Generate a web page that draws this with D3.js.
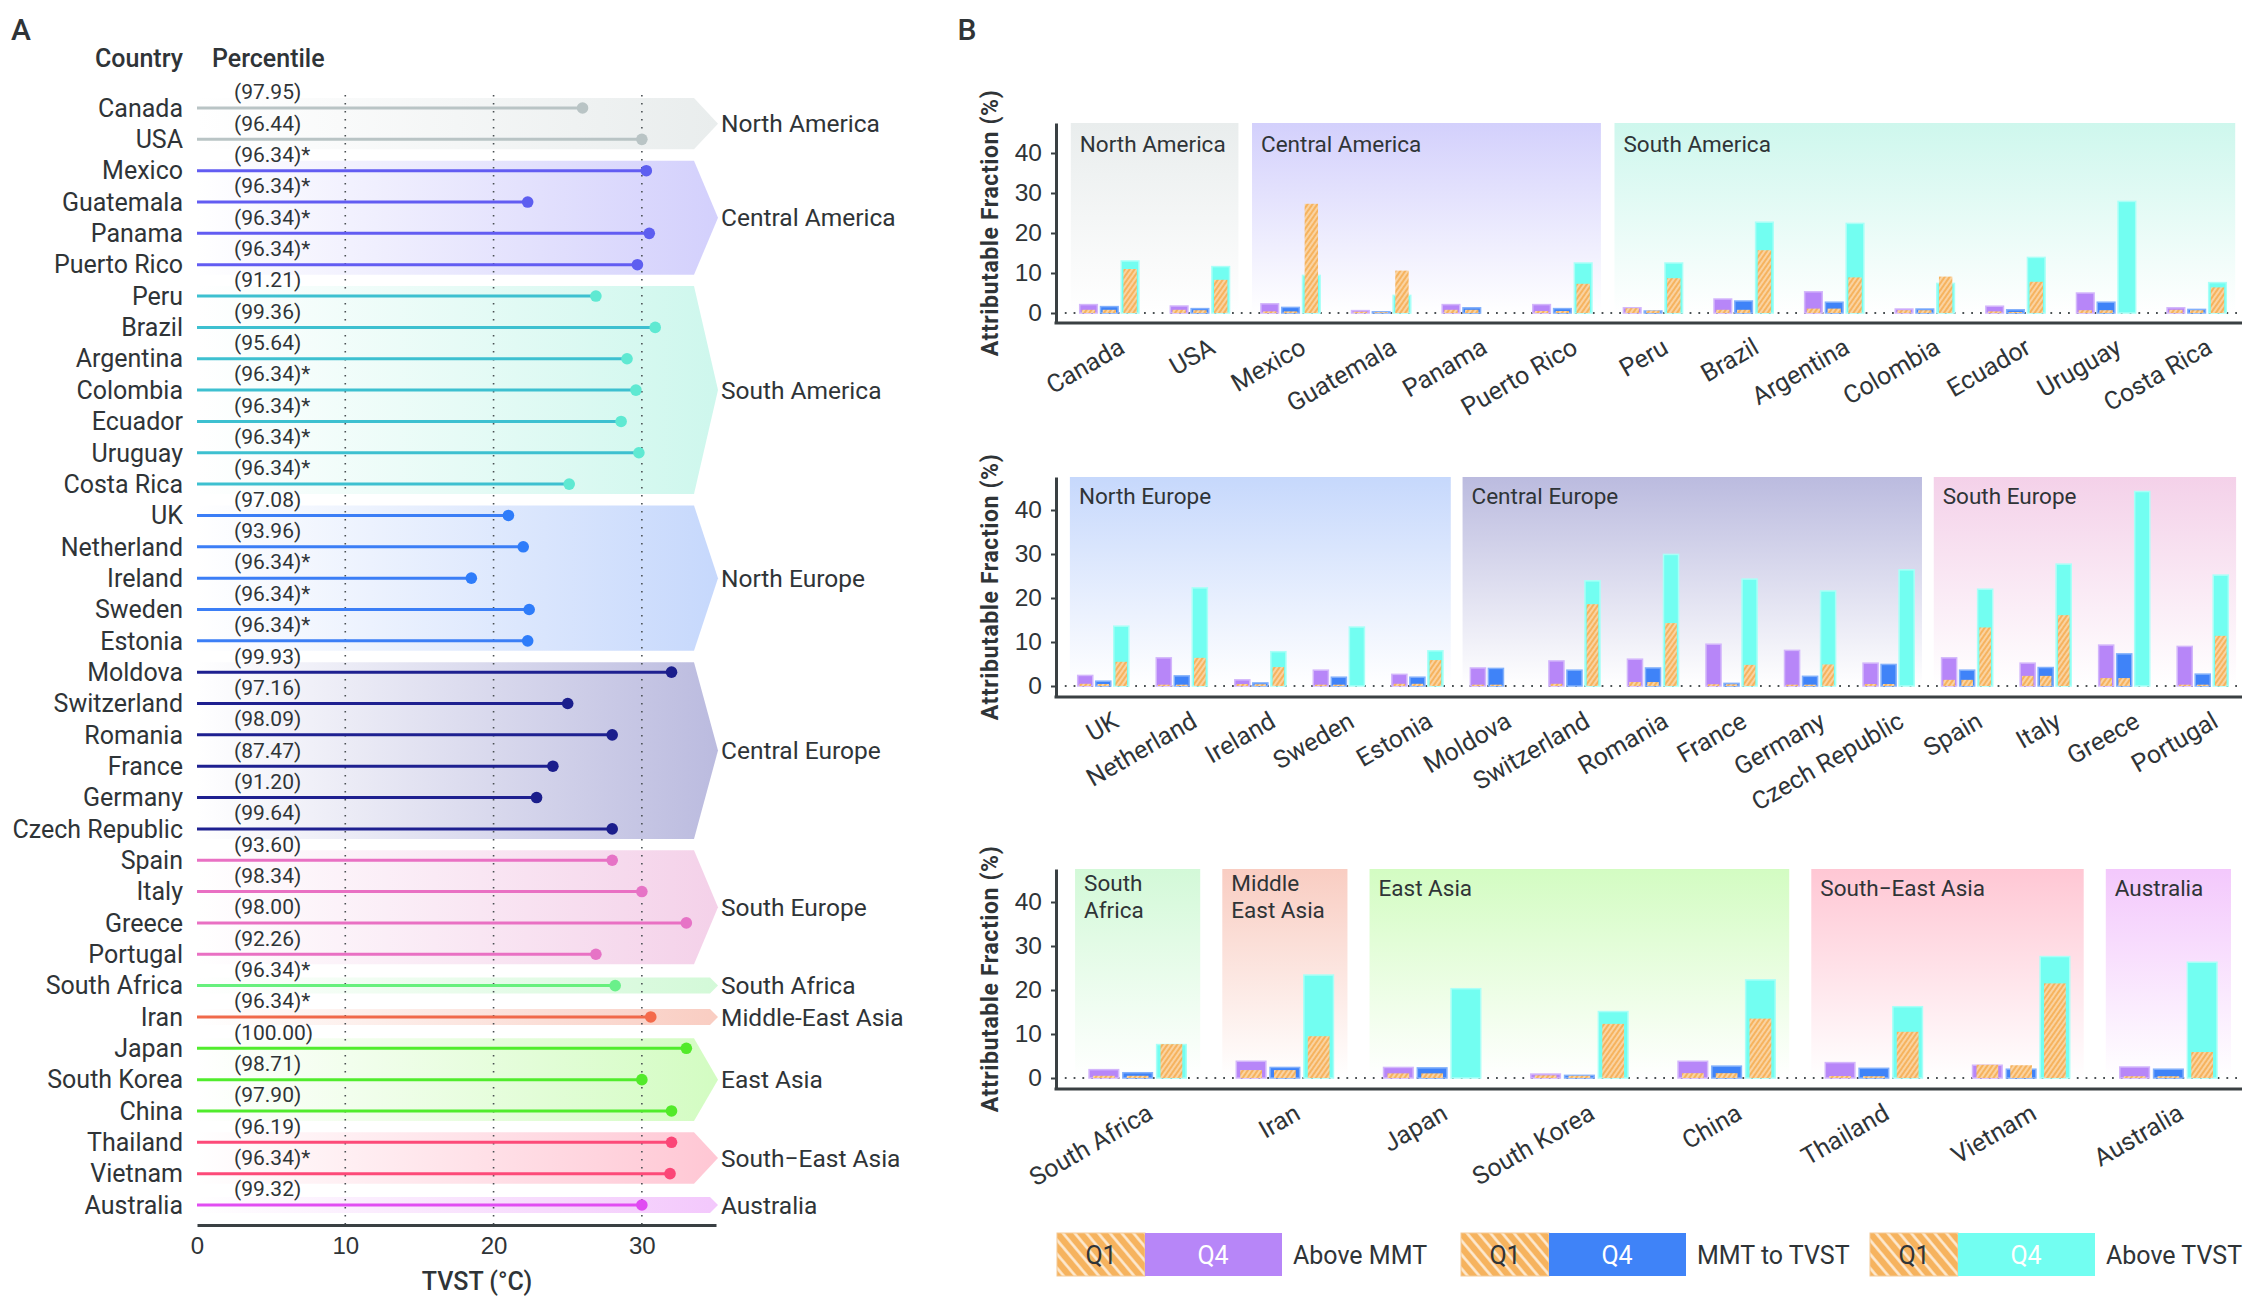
<!DOCTYPE html>
<html>
<head>
<meta charset="utf-8">
<script src="https://cdn.jsdelivr.net/npm/d3@7"></script>
<style>
  body { margin: 0; background: #fff; }
  svg { font-family: Roboto, "Noto Sans", sans-serif; }
  text { fill: #2f3437; }
</style>
</head>
<body>
<svg id="fig" width="2254" height="1312"></svg>
<script>
// countries, in the order they are drawn (top to bottom in A, left to right in B)
var countries = ["Canada", "USA", "Mexico", "Guatemala", "Panama", "Puerto Rico",
  "Peru", "Brazil", "Argentina", "Colombia", "Ecuador", "Uruguay", "Costa Rica",
  "UK", "Netherland", "Ireland", "Sweden", "Estonia",
  "Moldova", "Switzerland", "Romania", "France", "Germany", "Czech Republic",
  "Spain", "Italy", "Greece", "Portugal",
  "South Africa", "Iran", "Japan", "South Korea", "China", "Thailand", "Vietnam", "Australia"];

var regions = ["North America", "Central America", "South America", "North Europe",
  "Central Europe", "South Europe", "South Africa", "Middle-East Asia", "East Asia",
  "South\u2212East Asia", "Australia"];
var regionSizes = [2, 4, 7, 5, 6, 4, 1, 1, 3, 2, 1];
var regionLabelsB = [["North America"], ["Central America"], ["South America"], ["North Europe"],
  ["Central Europe"], ["South Europe"], ["South", "Africa"], ["Middle", "East Asia"], ["East Asia"],
  ["South\u2212East Asia"], ["Australia"]];

// panel A
var tvst = [26.0, 30.0, 30.3, 22.3, 30.5, 29.7, 26.9, 30.9, 29.0, 29.6, 28.6, 29.8, 25.1,
  21.0, 22.0, 18.5, 22.4, 22.3, 32.0, 25.0, 28.0, 24.0, 22.9, 28.0,
  28.0, 30.0, 33.0, 26.9, 28.2, 30.6, 33.0, 30.0, 32.0, 32.0, 31.9, 30.0];
var percentile = [97.95, 96.44, 96.34, 96.34, 96.34, 96.34, 91.21, 99.36, 95.64, 96.34, 96.34, 96.34, 96.34,
  97.08, 93.96, 96.34, 96.34, 96.34, 99.93, 97.16, 98.09, 87.47, 91.20, 99.64,
  93.60, 98.34, 98.00, 92.26, 96.34, 96.34, 100.00, 98.71, 97.90, 96.19, 96.34, 99.32];
var imputed = [0, 0, 1, 1, 1, 1, 0, 0, 0, 1, 1, 1, 1, 0, 0, 1, 1, 1, 0, 0, 0, 0, 0, 0,
  0, 0, 0, 0, 1, 1, 0, 0, 0, 0, 1, 0];
var tvstTicks = [0, 10, 20, 30];

// panel B, attributable fraction (%)
var aboveMmtQ4 = [2.1, 1.75, 2.3, 0.6, 2.1, 2.1, 1.3, 3.5, 5.3, 1.0, 1.7, 5.0, 1.3,
  2.4, 6.4, 1.4, 3.6, 2.65, 4.1, 5.7, 6.1, 9.5, 8.1, 5.2, 6.4, 5.2, 9.3, 9.0,
  1.9, 3.8, 2.4, 0.9, 3.8, 3.5, 2.9, 2.5];
var aboveMmtQ1 = [0.8, 0.8, 0.4, 0.3, 0.8, 0.5, 1.2, 0.8, 1.1, 0.7, 0.4, 0.7, 0.8,
  0.5, 0.3, 0.45, 0.3, 0.5, 0.3, 0.5, 0.9, 0.4, 0.3, 0.45, 1.4, 2.3, 1.8, 0.3,
  0.5, 1.8, 1.05, 0.6, 1.1, 0.45, 3.0, 0.4];
var mmtTvstQ4 = [1.6, 1.1, 1.4, 0.3, 1.3, 1.1, 0.5, 3.0, 2.7, 1.0, 0.8, 2.7, 0.9,
  1.1, 2.3, 0.7, 2.0, 2.0, 4.0, 3.6, 4.1, 0.6, 2.2, 4.9, 3.6, 4.2, 7.3, 2.7,
  1.2, 2.4, 2.3, 0.6, 2.7, 2.2, 2.0, 2.0];
var mmtTvstQ1 = [0.8, 0.7, 0.4, 0.2, 0.8, 0.5, 0.6, 0.8, 1.1, 0.7, 0.25, 0.7, 0.7,
  0.45, 0.3, 0.4, 0.3, 0.5, 0.3, 0, 0.9, 0.4, 0.3, 0.45, 1.4, 2.3, 1.8, 0.3,
  0.5, 1.8, 1.05, 0.5, 1.1, 0.4, 2.9, 0.4];
var aboveTvstQ4 = [13.0, 11.6, 9.4, 4.4, 0, 12.5, 12.5, 22.7, 22.4, 7.4, 13.9, 27.9, 7.6,
  13.6, 22.3, 7.8, 13.4, 8.0, 0, 23.9, 29.9, 24.3, 21.6, 26.4, 22.0, 27.7, 44.2, 25.2,
  7.6, 23.4, 20.3, 15.1, 22.3, 16.2, 27.6, 26.3];
var aboveTvstQ1 = [11.0, 8.3, 27.3, 10.6, 0, 7.3, 8.7, 15.7, 8.9, 9.1, 7.8, 0, 6.4,
  5.5, 6.4, 4.3, 0, 5.9, 0, 18.6, 14.3, 4.8, 4.9, 0, 13.3, 16.1, 0, 11.4,
  7.7, 9.5, 0, 12.3, 13.5, 10.5, 21.5, 5.9];
var afTicks = [0, 10, 20, 30, 40];
var seriesNames = ["Above MMT", "MMT to TVST", "Above TVST"];
var chartRegions = [[0, 1, 2], [3, 4, 5], [6, 7, 8, 9, 10]];

// colours
var lineColors = ["#b9c4c5", "#625cf2", "#3dc0d0", "#3b7ef6", "#1e2090", "#e970c3",
  "#67f07d", "#f0694a", "#50ec2c", "#fd4a78", "#e14df2"];
var dotColors = ["#b9c4c5", "#5d5ef0", "#5fe9d2", "#2e7cfa", "#1b1e8c", "#e673c6",
  "#6af08a", "#f46a4a", "#52ea2a", "#fb4677", "#e04bf2"];
var bandColors = ["#e9eded", "#d3d0fc", "#cef7ed", "#c6d8fc", "#bbbbdf", "#f4d1e9",
  "#d3f9d8", "#f9cdc2", "#d3fcc2", "#ffc7d4", "#f3c8fc"];
var seriesColors = ["#b786f8", "#3f83f8", "#72fef1"];
var seriesStroke = ["#d3b6fb", "#82b0fb", "#a9fff7"];
var q1Color = "#f6b35e";

var svg = d3.select("#fig");
var defs = svg.append("defs");

function hatch(id, size, angle) {
  var p = defs.append("pattern")
    .attr("id", id)
    .attr("patternUnits", "userSpaceOnUse")
    .attr("width", size).attr("height", size)
    .attr("patternTransform", "rotate(" + angle + ")");
  p.append("rect").attr("width", size).attr("height", size).attr("fill", q1Color);
  p.append("line").attr("x1", size / 2).attr("x2", size / 2).attr("y1", 0).attr("y2", size)
    .attr("stroke", "#fff").attr("stroke-width", size * 0.28).attr("stroke-opacity", 0.75);
}
hatch("hatchBar", 4, 35);
hatch("hatchLegend", 9, -40);

// region index of each country
var regionOf = [], regionStart = [];
regionSizes.forEach(function(n, i) {
  regionStart.push(regionOf.length);
  for (var k = 0; k < n; k++) regionOf.push(i);
});

// ---------------- panel A ----------------
var xA = d3.scaleLinear().domain([0, 35]).range([197, 716]);
var yA = d3.scalePoint().domain(countries).range([108, 1205]);
var gA = svg.append("g");

gA.append("text").attr("x", 21).attr("y", 29).attr("dy", "0.35em")
  .attr("text-anchor", "middle").style("font-size", "30px").style("font-weight", 500).text("A");
gA.append("text").attr("x", 183).attr("y", 58).attr("dy", "0.35em").attr("text-anchor", "end")
  .style("font-size", "25px").style("font-weight", 500).text("Country");
gA.append("text").attr("x", 212).attr("y", 58).attr("dy", "0.35em")
  .style("font-size", "25px").style("font-weight", 500).text("Percentile");

// chevron bands
regions.forEach(function(r, i) {
  var first = countries[regionStart[i]];
  var last = countries[regionStart[i] + regionSizes[i] - 1];
  var pad = regionSizes[i] > 1 ? 10 : 8;
  var y0 = yA(first) - pad, y1 = yA(last) + pad;
  var tip = xA(35) + 2;
  var inset = Math.min((y1 - y0) / 2, 24);
  var grad = defs.append("linearGradient").attr("id", "ga" + i)
    .attr("x1", 0).attr("x2", 1).attr("y1", 0).attr("y2", 0);
  grad.append("stop").attr("offset", 0).attr("stop-color", "#ffffff");
  grad.append("stop").attr("offset", 1).attr("stop-color", bandColors[i]);
  gA.append("polygon")
    .attr("points", [[xA(0), y0], [tip - inset, y0], [tip, (y0 + y1) / 2], [tip - inset, y1], [xA(0), y1]].join(" "))
    .attr("fill", "url(#ga" + i + ")");
  gA.append("text").attr("x", tip + 3).attr("y", (y0 + y1) / 2).attr("dy", "0.35em")
    .style("font-size", "24.5px").text(r);
});

// dotted guides
gA.selectAll(".guide").data(tvstTicks.slice(1)).enter().append("line")
  .attr("x1", function(d) { return xA(d); }).attr("x2", function(d) { return xA(d); })
  .attr("y1", 95).attr("y2", 1225)
  .attr("stroke", "#4a5053").attr("stroke-width", 1.6).attr("stroke-dasharray", "1.6,6.4");

// lollipops
var rows = gA.selectAll(".row").data(countries).enter().append("g");
rows.append("line")
  .attr("x1", xA(0)).attr("x2", function(d, i) { return xA(tvst[i]); })
  .attr("y1", function(d) { return yA(d); }).attr("y2", function(d) { return yA(d); })
  .attr("stroke", function(d, i) { return lineColors[regionOf[i]]; }).attr("stroke-width", 3);
rows.append("circle")
  .attr("cx", function(d, i) { return xA(tvst[i]); }).attr("cy", function(d) { return yA(d); })
  .attr("r", 5.8).attr("fill", function(d, i) { return dotColors[regionOf[i]]; });
rows.append("text")
  .attr("x", 183).attr("y", function(d) { return yA(d); }).attr("dy", "0.35em")
  .attr("text-anchor", "end").style("font-size", "25px").text(function(d) { return d; });
rows.append("text")
  .attr("x", 234).attr("y", function(d) { return yA(d) - 16; }).attr("dy", "0.35em")
  .style("font-size", "21px")
  .text(function(d, i) { return "(" + percentile[i].toFixed(2) + ")" + (imputed[i] ? "*" : ""); });

var axA = gA.append("g").attr("transform", "translate(0,1225)")
  .call(d3.axisBottom(xA).tickValues(tvstTicks).tickSize(0).tickSizeOuter(0).tickPadding(12));
axA.select(".domain").attr("stroke", "#3a4043").attr("stroke-width", 3);
axA.selectAll("text").style("font-size", "24px").attr("fill", "#2f3437");
gA.append("text").attr("x", 477).attr("y", 1281).attr("dy", "0.35em").attr("text-anchor", "middle")
  .style("font-size", "25px").style("font-weight", 500).text("TVST (\u00b0C)");

// ---------------- panel B ----------------
var gB = svg.append("g");
gB.append("text").attr("x", 967).attr("y", 29).attr("dy", "0.35em")
  .attr("text-anchor", "middle").style("font-size", "30px").style("font-weight", 500).text("B");

var chartBoxes = [{top: 123, bottom: 323}, {top: 477, bottom: 697}, {top: 869, bottom: 1089}];
var axisX = 1056, plotRight = 2242;
var q4 = [aboveMmtQ4, mmtTvstQ4, aboveTvstQ4];
var q1 = [aboveMmtQ1, mmtTvstQ1, aboveTvstQ1];

chartRegions.forEach(function(regIdx, ci) {
  var box = chartBoxes[ci];
  var idx = [];
  regIdx.forEach(function(r) { for (var k = 0; k < regionSizes[r]; k++) idx.push(regionStart[r] + k); });
  var names = idx.map(function(i) { return countries[i]; });

  var x = d3.scaleBand().domain(names).range([1064, plotRight]).paddingInner(0.33).paddingOuter(0.165);
  var y = d3.scaleLinear().domain([-2.5, 47.5]).range([box.bottom, box.top]);
  var sub = d3.scaleBand().domain([0, 1, 2]).range([0, x.bandwidth()]).paddingInner(0.08);
  var g = gB.append("g");

  // region backgrounds
  regIdx.forEach(function(r) {
    var pad = x.step() * 0.09;
    var x0 = x(countries[regionStart[r]]) - pad;
    var x1 = x(countries[regionStart[r] + regionSizes[r] - 1]) + x.bandwidth() + pad;
    var grad = defs.append("linearGradient").attr("id", "gb" + r)
      .attr("x1", 0).attr("x2", 0).attr("y1", 0).attr("y2", 1);
    grad.append("stop").attr("offset", 0).attr("stop-color", bandColors[r]);
    grad.append("stop").attr("offset", 1).attr("stop-color", "#ffffff");
    g.append("rect").attr("x", x0).attr("width", x1 - x0)
      .attr("y", box.top).attr("height", y(0) - box.top)
      .attr("fill", "url(#gb" + r + ")");
    var lines = regionLabelsB[r];
    lines.forEach(function(t, li) {
      g.append("text").attr("x", x0 + 9)
        .attr("y", box.top + (lines.length > 1 ? 14 + li * 27 : (ci == 0 ? 21 : 19)))
        .attr("dy", "0.35em").style("font-size", "22.5px").text(t);
    });
  });

  // zero line
  g.append("line").attr("x1", axisX).attr("x2", plotRight).attr("y1", y(0)).attr("y2", y(0))
    .attr("stroke", "#4a5053").attr("stroke-width", 1.8).attr("stroke-dasharray", "1.8,7");

  // bars
  var grp = g.selectAll(".grp").data(idx).enter().append("g")
    .attr("transform", function(i) { return "translate(" + x(countries[i]) + ",0)"; });
  [0, 1, 2].forEach(function(s) {
    grp.filter(function(i) { return q4[s][i] > 0; }).append("rect")
      .attr("x", sub(s) + 0.75).attr("width", sub.bandwidth() - 1.5)
      .attr("y", function(i) { return y(q4[s][i]); })
      .attr("height", function(i) { return y(0) - y(q4[s][i]); })
      .attr("fill", seriesColors[s]).attr("stroke", seriesStroke[s]).attr("stroke-width", 1.5);
    var w1 = sub.bandwidth() * 0.7;
    grp.filter(function(i) { return q1[s][i] > 0; }).append("rect")
      .attr("x", sub(s) + (sub.bandwidth() - w1) / 2).attr("width", w1)
      .attr("y", function(i) { return y(q1[s][i]); })
      .attr("height", function(i) { return y(0) - y(q1[s][i]); })
      .attr("fill", "url(#hatchBar)");
  });

  // axes
  var ay = g.append("g").attr("transform", "translate(" + axisX + ",0)")
    .call(d3.axisLeft(y).tickValues(afTicks).tickSize(5).tickSizeOuter(0).tickPadding(9));
  ay.select(".domain").attr("stroke", "#3a4043").attr("stroke-width", 3);
  ay.selectAll(".tick line").attr("stroke", "#3a4043").attr("stroke-width", 2);
  ay.selectAll("text").style("font-size", "24.5px").attr("fill", "#2f3437");
  g.append("line").attr("x1", axisX - 1.5).attr("x2", plotRight).attr("y1", box.bottom).attr("y2", box.bottom)
    .attr("stroke", "#3a4043").attr("stroke-width", 3);

  g.selectAll(".clab").data(names).enter().append("text")
    .attr("text-anchor", "end")
    .attr("transform", function(d) {
      return "translate(" + (x(d) + x.bandwidth() / 2 + 17) + "," + (box.bottom + 29) + ") rotate(-30)";
    })
    .style("font-size", "25px").text(function(d) { return d; });

  g.append("text").attr("text-anchor", "middle").attr("dy", "0.35em")
    .attr("transform", "translate(990," + (box.top + box.bottom) / 2 + ") rotate(-90)")
    .style("font-size", "23px").style("font-weight", 700).style("letter-spacing", "0.6px")
    .text("Attributable Fraction (%)");
});

// legend
var legendX = [1057, 1461, 1870];
var lg = gB.selectAll(".leg").data(seriesNames).enter().append("g")
  .attr("transform", function(d, i) { return "translate(" + legendX[i] + ",1233)"; });
lg.append("rect").attr("width", 88).attr("height", 43).attr("fill", "url(#hatchLegend)")
  .attr("stroke", "#f3c995").attr("stroke-width", 1);
lg.append("rect").attr("x", 88).attr("width", 137).attr("height", 43)
  .attr("fill", function(d, i) { return seriesColors[i]; });
lg.append("text").attr("x", 44).attr("y", 22).attr("dy", "0.35em").attr("text-anchor", "middle")
  .style("font-size", "25px").text("Q1");
lg.append("text").attr("x", 156).attr("y", 22).attr("dy", "0.35em").attr("text-anchor", "middle")
  .style("font-size", "25px").style("fill", "#fff").text("Q4");
lg.append("text").attr("x", 236).attr("y", 22).attr("dy", "0.35em")
  .style("font-size", "25px").text(function(d) { return d; });
</script>
</body>
</html>
